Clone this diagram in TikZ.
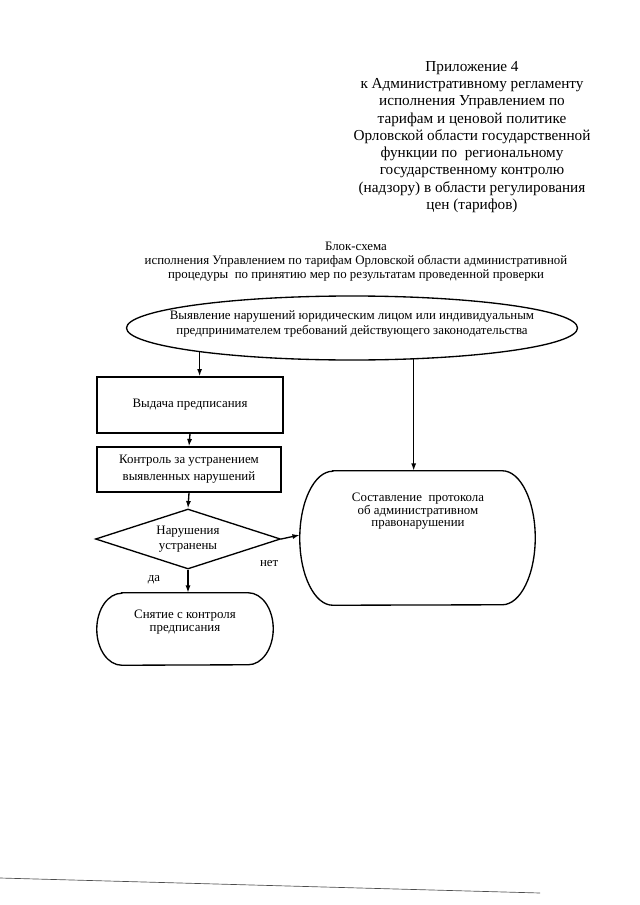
\documentclass[tikz,border=0pt]{standalone}
\usepackage{fontspec}
\setmainfont{Liberation Serif}
\usetikzlibrary{shapes.geometric,arrows.meta}
\tikzset{
  flowline/.style={line width=0.04cm, -{Latex[length=0.22cm,width=0.15cm]}},
  blockbox/.style={draw, line width=0.04cm, inner sep=0pt, align=center},
  termbox/.style={inner sep=0pt, align=center},
  boxfont/.style={font=\fontsize{11}{12.5}\selectfont},
}
% outline of a terminal block: node, end radius, half height
\newcommand{\termedge}[3]{%
  \draw [line width=0.04cm] ([xshift=#2]#1.north west) -- ([xshift=-#2]#1.north east)
    arc [start angle=90, end angle=-90, x radius=#2, y radius=#3]
    -- ([xshift=#2]#1.south west)
    arc [start angle=270, end angle=90, x radius=#2, y radius=#3] -- cycle;}
\begin{document}
\begin{tikzpicture}[x=0.03cm, y=-0.03cm]
                    \useasboundingbox (0,0) rectangle (639,905);
                    
                    % Drawing appendix caption
                    \node [align=center, font=\fontsize{13}{14.7}\selectfont] (pril) at (472,137) {Приложение 4\\к Административному регламенту\\исполнения Управлением по\\тарифам и ценовой политике\\Орловской области государственной\\функции по\ \ региональному\\государственному контролю\\(надзору) в области регулирования\\цен (тарифов)};%
                    
                    % Drawing title
                    \node [align=center, font=\fontsize{11}{12}\selectfont] (blok) at (356,262) {Блок-схема\\исполнения Управлением по тарифам Орловской области административной\\процедуры\ \ по принятию мер по результатам проведенной проверки};%
                    
                    % Drawing block vyav (ellipse)
                    \node [blockbox, ellipse, minimum width=13.53cm, minimum height=1.92cm] (vyav) at (352,328) {};%
                    \node [termbox, boxfont] (vyavText) at (352,324) {Выявление нарушений юридическим лицом или индивидуальным\\предпринимателем требований действующего законодательства};%
                    
                    % Drawing block vyd
                    \node [blockbox, boxfont, minimum width=5.58cm, minimum height=1.68cm] (vyd) at (190,405) {Выдача предписания};%
                    
                    % Drawing block kontr
                    \node [blockbox, font=\fontsize{11}{14.5}\selectfont, minimum width=5.52cm, minimum height=1.35cm] (kontr) at (189,469.5) {Контроль за устранением\\выявленных нарушений};%
                    
                    % Drawing block narush (diamond)
                    \node [blockbox, diamond, aspect=3, font=\fontsize{11}{13}\selectfont, minimum width=5.55cm, minimum height=1.8cm] (narush) at (188,539) {Нарушения\\устранены};%
                    
                    % Drawing block snyat
                    \node [termbox, minimum width=5.28cm, minimum height=2.16cm] (snyat) at (185,629) {};%
                    \termedge{snyat}{0.75cm}{1.08cm}
                    \node [termbox, font=\fontsize{11}{11.5}\selectfont] (snyatText) at (185,622) {Снятие с контроля\\предписания};%
                    
                    % Drawing block prot
                    \node [termbox, minimum width=7.05cm, minimum height=4.02cm] (prot) at (417.5,538) {};%
                    \termedge{prot}{0.99cm}{2.01cm}
                    \node [termbox, font=\fontsize{11}{9.5}\selectfont] (protText) at (418,511) {Составление\ \ протокола\\об административном\\правонарушении};%
                    
                    % Drawing connectors
                    \draw [flowline] (vyav.189) -- (vyav.189 |- vyd.north);%
                    \draw [flowline] (vyav.333) -- (vyav.333 |- prot.north);%
                    \draw [flowline] (vyd.south) -- (kontr.north);%
                    \draw [flowline] (kontr.south) -- (narush.north);%
                    \draw [flowline] (narush.south) -- (narush.south |- snyat.north) node [pos=0.42, left, xshift=-0.7cm, font=\fontsize{11}{12}\selectfont] (da) {да};%
                    \draw [flowline] (narush.east) -- ([yshift=0.09cm]prot.west) node [pos=0, below, yshift=-0.5cm, xshift=-0.36cm, font=\fontsize{11}{12}\selectfont] (net) {нет};%
                    
                    % Drawing scan edge
                    \draw [line width=0.02cm, black!70] (0,878) -- (540,893);%
\end{tikzpicture}
\end{document}
